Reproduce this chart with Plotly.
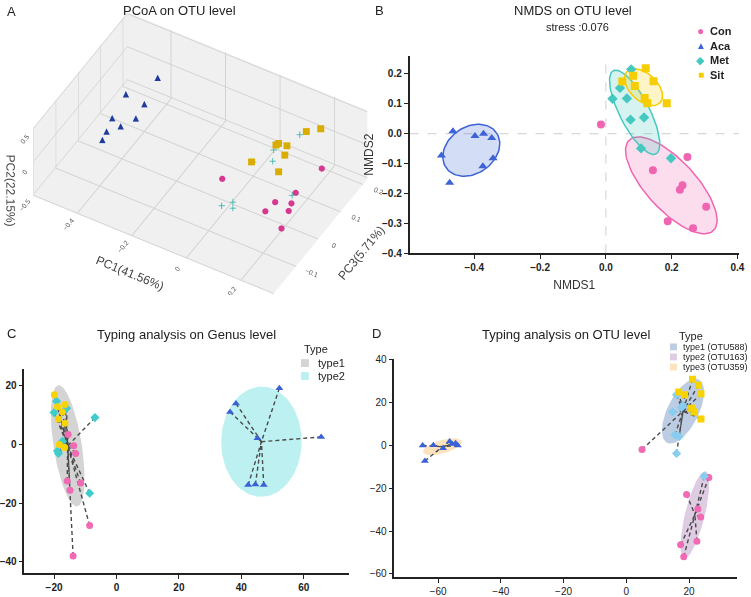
import numpy as np
import plotly.graph_objects as go

W, H = 751, 597
FONT = "Arial, Liberation Sans, sans-serif"

# ---------------- Panel A: PCoA (3D) ----------------
pcoa_con_pc1 = [0.233, -0.016, 0.216, 0.179, 0.228, 0.174, 0.236, 0.257]
pcoa_con_pc2 = [-0.10, -0.09, -0.10, -0.11, -0.10, -0.10, -0.11, -0.10]
pcoa_con_pc3 = [0.122, -0.020, 0.026, -0.021, -0.008, -0.059, -0.030, -0.088]
pcoa_aca_pc1 = [-0.329, -0.381, -0.305, -0.365, -0.298, -0.323, -0.349, -0.343]
pcoa_aca_pc2 = [0.31, 0.30, 0.32, 0.30, 0.31, 0.30, 0.31, 0.30]
pcoa_aca_pc3 = [0.073, -0.006, -0.016, -0.087, -0.063, -0.100, -0.132, -0.158]
pcoa_met_pc1 = [0.126, 0.090, 0.111, 0.057, 0.241, 0.071, 0.095, 0.107]
pcoa_met_pc2 = [0.10, 0.11, 0.10, 0.09, 0.10, 0.10, 0.11, 0.10]
pcoa_met_pc3 = [0.154, 0.081, 0.051, 0.028, -0.021, -0.129, -0.108, -0.123]
pcoa_sit_pc1 = [0.159, 0.194, 0.106, 0.108, 0.138, 0.153, 0.172, 0.077]
pcoa_sit_pc2 = [0.25, 0.26, 0.25, 0.24, 0.25, 0.25, 0.24, 0.25]
pcoa_sit_pc3 = [0.143, 0.165, 0.072, 0.081, 0.082, 0.054, 0.003, -0.002]

# ---------------- Panel B: NMDS ----------------
nmds_con_x = [-0.015, 0.143, 0.248, 0.233, 0.225, 0.305, 0.188, 0.265]
nmds_con_y = [0.031, -0.122, -0.078, -0.172, -0.187, -0.244, -0.292, -0.316]
nmds_aca_x = [-0.465, -0.500, -0.475, -0.398, -0.372, -0.347, -0.374, -0.343]
nmds_aca_y = [0.008, -0.073, -0.164, -0.008, 0.000, -0.014, -0.109, -0.082]
nmds_met_x = [0.077, 0.043, 0.020, 0.064, 0.075, 0.116, 0.107, 0.198]
nmds_met_y = [0.215, 0.153, 0.117, 0.118, 0.047, 0.054, -0.049, -0.082]
nmds_sit_x = [0.121, 0.083, 0.050, 0.145, 0.088, 0.118, 0.126, 0.185]
nmds_sit_y = [0.219, 0.194, 0.174, 0.175, 0.159, 0.119, 0.102, 0.102]
nmds_stress = 0.076

# ---------------- Panel C: typing on genus level ----------------
genus_con_x = [-15.5, -13.7, -13.1, -15.8, -14.9, -11.5, -8.6, -13.9]
genus_con_y = [3.4, -0.4, -3.0, -12.4, -15.6, -13.1, -27.6, -38.0]
genus_aca_x = [38.3, 36.4, 52.2, 45.2, 65.6, 42.2, 44.5, 47.2]
genus_aca_y = [14.0, 11.1, 19.2, 2.2, 2.6, -13.8, -13.6, -13.8]
genus_met_x = [-19.2, -16.0, -20.0, -17.3, -18.9, -18.6, -6.9, -8.6]
genus_met_y = [14.8, 12.4, 10.9, 1.1, -2.2, -3.0, 9.2, -16.6]
genus_sit_x = [-19.9, -16.5, -18.9, -17.3, -18.6, -16.5, -18.3, -16.6]
genus_sit_y = [17.0, 13.7, 12.9, 11.1, 8.7, 7.3, 0.0, -1.0]
genus_con_type = [1, 1, 1, 1, 1, 1, 1, 1]
genus_aca_type = [2, 2, 2, 2, 2, 2, 2, 2]
genus_met_type = [1, 1, 1, 1, 1, 1, 1, 1]
genus_sit_type = [1, 1, 1, 1, 1, 1, 1, 1]
genus_type_labels = ["type1", "type2"]

# ---------------- Panel D: typing on OTU level ----------------
otu_con_x = [5.0, 26.3, 19.2, 22.8, 23.7, 22.5, 17.3, 18.3]
otu_con_y = [-2.0, -15.0, -22.9, -29.7, -33.5, -44.8, -46.4, -52.0]
otu_aca_x = [-64.9, -61.5, -64.2, -58.4, -56.3, -55.5, -54.4, -53.7]
otu_aca_y = [-0.1, 0.0, -7.3, -1.4, 1.8, 0.6, 0.9, -0.1]
otu_met_x = [16.0, 14.8, 17.6, 18.0, 15.5, 16.8, 16.0, 24.8]
otu_met_y = [23.5, 15.5, 17.5, 18.5, 4.8, 4.0, -3.8, -14.5]
otu_sit_x = [21.1, 23.0, 23.8, 16.7, 18.6, 20.8, 21.6, 23.8]
otu_sit_y = [30.8, 28.0, 24.0, 24.8, 23.5, 17.3, 15.5, 12.3]
otu_con_type = [1, 2, 2, 2, 2, 2, 2, 2]
otu_aca_type = [3, 3, 3, 3, 3, 3, 3, 3]
otu_met_type = [1, 1, 1, 1, 1, 1, 1, 2]
otu_sit_type = [1, 1, 1, 1, 1, 1, 1, 1]
otu_type_labels = ["type1 (OTU588)", "type2 (OTU163)", "type3 (OTU359)"]

groups = ["Con", "Aca", "Met", "Sit"]

# ---------------- styles ----------------
colA = {"Con": "#d6378f", "Aca": "#1f3a9e", "Met": "#2fb3ad", "Sit": "#d9ad00"}
colB = {"Con": "#f065b0", "Aca": "#3d63d6", "Met": "#45c8c0", "Sit": "#f5cd00"}
colC = {"Con": "#f06ab4", "Aca": "#3a60d8", "Met": "#3fcccc", "Sit": "#f7d300"}
colD = {"Con": "#f06ab4", "Aca": "#3a60d8", "Met": "#86cdf0", "Sit": "#f7d300"}
sym2d = {"Con": "circle", "Aca": "triangle-up", "Met": "diamond", "Sit": "square"}
symC = {"Con": "circle", "Aca": "triangle-up", "Met": "diamond", "Sit": "circle"}
fillC = {1: "rgba(205,205,205,0.85)", 2: "rgba(178,238,238,0.85)"}
fillD = {1: "rgba(176,196,222,0.85)", 2: "rgba(216,195,222,0.85)", 3: "rgba(253,222,178,0.85)"}


def px(x, y):
    return x / W, 1 - y / H


def ellipse(xs, ys, k=1.5, n=100):
    xs = np.asarray(xs, float)
    ys = np.asarray(ys, float)
    pts = np.vstack([xs, ys])
    c = pts.mean(axis=1)
    cov = np.cov(pts, bias=True)
    vals, vecs = np.linalg.eigh(cov)
    t = np.linspace(0, 2 * np.pi, n)
    circ = np.vstack([np.cos(t), np.sin(t)])
    e = vecs @ (np.sqrt(np.maximum(vals, 0))[:, None] * k * circ)
    return c[0] + e[0], c[1] + e[1]


fig = go.Figure()

# ---- Panel A traces ----
pcoa = {
    "Con": (pcoa_con_pc1, pcoa_con_pc3, pcoa_con_pc2),
    "Aca": (pcoa_aca_pc1, pcoa_aca_pc3, pcoa_aca_pc2),
    "Met": (pcoa_met_pc1, pcoa_met_pc3, pcoa_met_pc2),
    "Sit": (pcoa_sit_pc1, pcoa_sit_pc3, pcoa_sit_pc2),
}
symA3 = {"Con": "circle", "Met": "cross", "Sit": "square"}
for g in groups:
    x, y, z = pcoa[g]
    if g == "Aca":
        fig.add_trace(go.Scatter3d(x=x, y=y, z=z, mode="text", scene="scene",
                                   text=["▲"] * len(x),
                                   textfont=dict(size=11, color=colA[g]),
                                   showlegend=False, name=g))
    else:
        fig.add_trace(go.Scatter3d(x=x, y=y, z=z, mode="markers", scene="scene",
                                   marker=dict(size=3.6, color=colA[g], symbol=symA3[g],
                                               line=dict(width=0)),
                                   showlegend=False, name=g))

# ---- Panel B traces ----
nmds = {
    "Con": (nmds_con_x, nmds_con_y),
    "Aca": (nmds_aca_x, nmds_aca_y),
    "Met": (nmds_met_x, nmds_met_y),
    "Sit": (nmds_sit_x, nmds_sit_y),
}
for g in groups:
    ex, ey = ellipse(*nmds[g])
    c = colB[g]
    r, gg, b = int(c[1:3], 16), int(c[3:5], 16), int(c[5:7], 16)
    fig.add_trace(go.Scatter(x=ex, y=ey, mode="lines", fill="toself",
                             fillcolor=f"rgba({r},{gg},{b},0.22)",
                             line=dict(color=c, width=1.5), xaxis="x", yaxis="y",
                             showlegend=False, hoverinfo="skip"))
for g in groups:
    x, y = nmds[g]
    fig.add_trace(go.Scatter(x=x, y=y, mode="markers", xaxis="x", yaxis="y",
                             marker=dict(size=8, color=colB[g], symbol=sym2d[g]),
                             showlegend=False, name=g))


# ---- typing panels helper ----
def typing_panel(data, types, fills, cols, syms, xa, ya, msize=7):
    ntypes = sorted(set(t for g in groups for t in types[g]))
    members = {t: ([], []) for t in ntypes}
    for g in groups:
        xs, ys = data[g]
        for xv, yv, t in zip(xs, ys, types[g]):
            members[t][0].append(xv)
            members[t][1].append(yv)
    cent = {t: (np.mean(members[t][0]), np.mean(members[t][1])) for t in ntypes}
    for t in ntypes:
        ex, ey = ellipse(*members[t])
        fig.add_trace(go.Scatter(x=ex, y=ey, mode="lines", fill="toself",
                                 fillcolor=fills[t], line=dict(width=0, color=fills[t]),
                                 xaxis=xa, yaxis=ya, showlegend=False, hoverinfo="skip"))
    lx, ly = [], []
    for g in groups:
        xs, ys = data[g]
        for xv, yv, t in zip(xs, ys, types[g]):
            lx += [xv, cent[t][0], None]
            ly += [yv, cent[t][1], None]
    fig.add_trace(go.Scatter(x=lx, y=ly, mode="lines", xaxis=xa, yaxis=ya,
                             line=dict(color="#4a4a4a", width=1.4, dash="4px,3px"),
                             showlegend=False, hoverinfo="skip"))
    for g in groups:
        xs, ys = data[g]
        fig.add_trace(go.Scatter(x=xs, y=ys, mode="markers", xaxis=xa, yaxis=ya,
                                 marker=dict(size=msize, color=cols[g], symbol=syms[g]),
                                 showlegend=False, name=g))


genus = {"Con": (genus_con_x, genus_con_y), "Aca": (genus_aca_x, genus_aca_y),
         "Met": (genus_met_x, genus_met_y), "Sit": (genus_sit_x, genus_sit_y)}
genus_types = {"Con": genus_con_type, "Aca": genus_aca_type,
               "Met": genus_met_type, "Sit": genus_sit_type}
typing_panel(genus, genus_types, fillC, colC, symC, "x2", "y2")

otu = {"Con": (otu_con_x, otu_con_y), "Aca": (otu_aca_x, otu_aca_y),
       "Met": (otu_met_x, otu_met_y), "Sit": (otu_sit_x, otu_sit_y)}
otu_types = {"Con": otu_con_type, "Aca": otu_aca_type,
             "Met": otu_met_type, "Sit": otu_sit_type}
typing_panel(otu, otu_types, fillD, colD, sym2d, "x3", "y3")

# ---------------- layout ----------------
axis2d = dict(showgrid=False, zeroline=False, showline=True, linecolor="#222",
              linewidth=1.5, ticks="outside", ticklen=4, tickwidth=1.3, tickcolor="#222")

bx0, bx1 = px(411, 0)[0], px(745, 0)[0]
by0, by1 = px(0, 254)[1], px(0, 52)[1]
cx0, cx1 = px(20.7, 0)[0], px(349.3, 0)[0]
cy0, cy1 = px(0, 580.7)[1], px(0, 371.7)[1]
dx0, dx1 = px(395.7, 0)[0], px(743.3, 0)[0]
dy0, dy1 = px(0, 584.7)[1], px(0, 361.7)[1]

sceneax = dict(showbackground=True, backgroundcolor="#f0f0f0", gridcolor="#d2d2d2",
               zeroline=False, showspikes=False, tickfont=dict(size=9, color="#555"),
               title_font=dict(size=12, color="#444"))

d = 1.66
s = 1.22
fig.update_layout(
    width=W, height=H, margin=dict(l=0, r=0, t=0, b=0),
    paper_bgcolor="white", plot_bgcolor="white",
    font=dict(family=FONT, color="#222"),
    showlegend=False,
    scene=dict(
        domain=dict(x=[0.0, 0.53], y=[px(0, 296)[1], px(0, 6)[1]]),
        xaxis=dict(sceneax, title=dict(text="PC1(41.56%)"), range=[-0.56, 0.32],
                   tickvals=[-0.4, -0.2, 0, 0.2]),
        yaxis=dict(sceneax, title=dict(text="PC3(5.71%)"), range=[-0.2, 0.22],
                   tickvals=[-0.2, -0.1, 0, 0.1, 0.2]),
        zaxis=dict(sceneax, title=dict(text="PC2(22.15%)"), range=[-0.52, 0.52],
                   tickvals=[-0.5, 0, 0.5]),
        aspectmode="manual", aspectratio=dict(x=1.6 * s, y=1.08 * s, z=0.56 * s),
        camera=dict(eye=dict(x=0.354 * d, y=-0.612 * d, z=0.707 * d),
                    up=dict(x=0, y=0, z=1), center=dict(x=0, y=0, z=0),
                    projection=dict(type="orthographic")),
    ),
    xaxis=dict(axis2d, domain=[bx0, bx1], range=[-0.597, 0.405],
               tickvals=[-0.4, -0.2, 0.0, 0.2, 0.4], tickformat=".1f",
               tickfont=dict(size=10, weight="bold", color="#222"),
               title=dict(text="NMDS1", font=dict(size=12, color="#333"), standoff=8),
               anchor="y"),
    yaxis=dict(axis2d, domain=[by0, by1], range=[-0.4, 0.26],
               tickvals=[-0.4, -0.3, -0.2, -0.1, 0.0, 0.1, 0.2], tickformat=".1f",
               tickfont=dict(size=10, weight="bold", color="#222"),
               title=dict(text="NMDS2", font=dict(size=12, color="#333"), standoff=6),
               anchor="x"),
    xaxis2=dict(axis2d, domain=[cx0, cx1], range=[-29.5, 74.4],
                tickvals=[-20, 0, 20, 40, 60],
                tickfont=dict(size=10, weight="bold", color="#222"), anchor="y2"),
    yaxis2=dict(axis2d, domain=[cy0, cy1], range=[-43.8, 25.9],
                tickvals=[-40, -20, 0, 20],
                tickfont=dict(size=10, weight="bold", color="#222"), anchor="x2"),
    xaxis3=dict(axis2d, domain=[dx0, dx1], range=[-73.9, 35.4],
                tickvals=[-60, -40, -20, 0, 20],
                tickfont=dict(size=10, color="#222"), anchor="y3"),
    yaxis3=dict(axis2d, domain=[dy0, dy1], range=[-61.4, 40.3],
                tickvals=[-60, -40, -20, 0, 20, 40],
                tickfont=dict(size=10, color="#222"), anchor="x3"),
)

fig.add_shape(type="line", xref="x", yref="y", x0=0, x1=0, y0=-0.4, y1=0.26,
              line=dict(color="#cfcfcf", width=1, dash="dash"), layer="below")
fig.add_shape(type="line", xref="x", yref="y", x0=-0.597, x1=0.405, y0=0, y1=0,
              line=dict(color="#cfcfcf", width=1, dash="dash"), layer="below")

ann = []


def text(x, y, s, size=12, color="#222", xanchor="center", weight="normal", yanchor="middle"):
    X, Y = px(x, y)
    ann.append(dict(x=X, y=Y, xref="paper", yref="paper", text=s, showarrow=False,
                    xanchor=xanchor, yanchor=yanchor,
                    font=dict(size=size, color=color, family=FONT, weight=weight)))


text(8, 7, "A", 13)
text(178, 6, "PCoA on OTU level", 13)
text(381, 6, "B", 13)
text(577, 6, "NMDS on OTU level", 13)
text(581, 23, f"stress :{nmds_stress}", 11)
text(8, 336, "C", 13)
text(185, 337, "Typing analysis on Genus level", 13)
text(378, 336, "D", 13)
text(570, 337, "Typing analysis on OTU level", 13)

glyph = {"Con": "●", "Aca": "▲", "Met": "◆", "Sit": "■"}
gsize = {"Con": 12, "Aca": 10, "Met": 11, "Sit": 10}
for i, g in enumerate(groups):
    yy = 27 + i * 14.8
    text(706, yy, glyph[g], gsize[g], color=colB[g])
    text(713, yy, g, 11, xanchor="left", weight="bold")

text(302, 352, "Type", 11, xanchor="left")
for i, lab in enumerate(genus_type_labels):
    yy = 366 + i * 13.3
    X0, Y0 = px(301, yy - 4)
    X1, Y1 = px(309, yy + 4)
    fig.add_shape(type="rect", xref="paper", yref="paper", x0=X0, x1=X1, y0=Y1, y1=Y0,
                  fillcolor=fillC[i + 1], line=dict(width=0))
    text(316, yy, lab, 11, xanchor="left")

text(682, 338, "Type", 11, xanchor="left")
for i, lab in enumerate(otu_type_labels):
    yy = 349.5 + i * 10.3
    X0, Y0 = px(675, yy - 3.5)
    X1, Y1 = px(682, yy + 3.5)
    fig.add_shape(type="rect", xref="paper", yref="paper", x0=X0, x1=X1, y0=Y1, y1=Y0,
                  fillcolor=fillD[i + 1], line=dict(width=0))
    text(686, yy, lab, 9, xanchor="left")

fig.update_layout(annotations=ann)
fig.write_html("out.html", config={"displayModeBar": False},
               post_script="document.body.style.margin='0px';")
